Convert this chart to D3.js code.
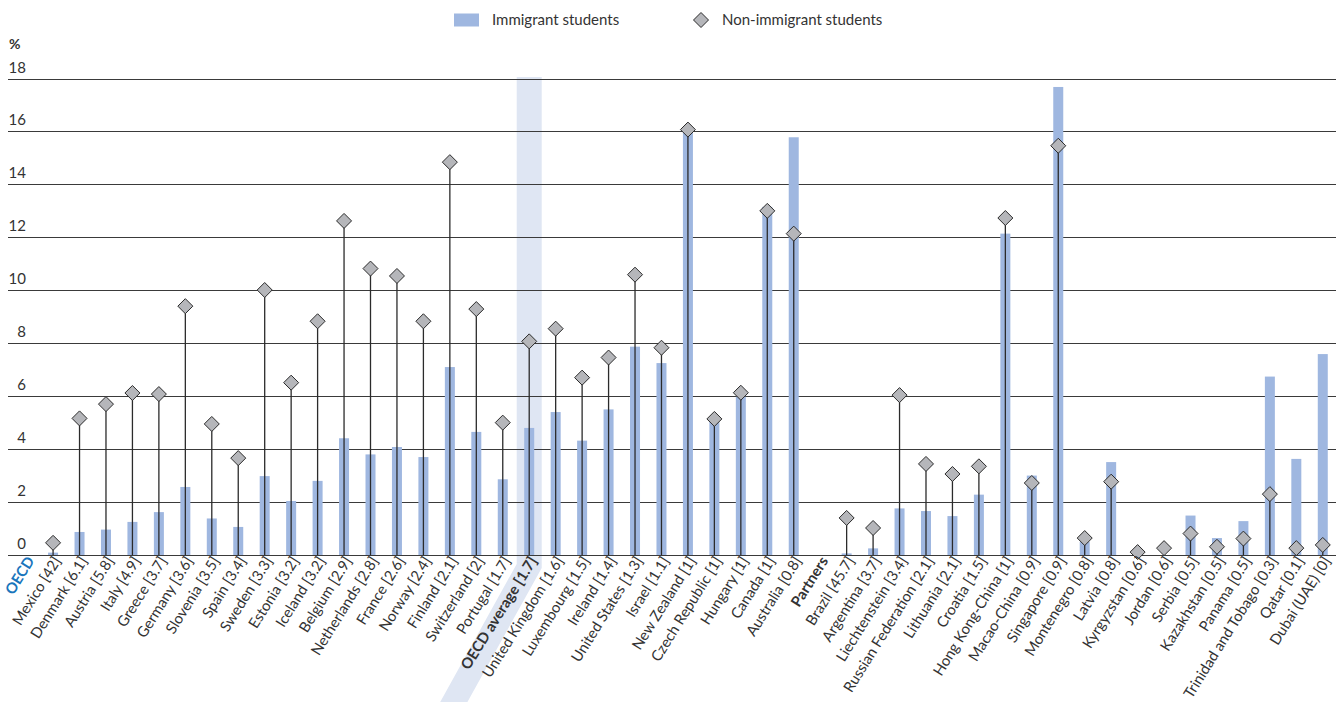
<!DOCTYPE html>
<html><head><meta charset="utf-8">
<script src="https://cdn.jsdelivr.net/npm/d3@7"></script>
<style>
body{margin:0;background:#fff;}
svg{display:block;font-family:Lato, "Open Sans", sans-serif;}
</style>
</head><body>
<svg id="chart" width="1343" height="702"></svg>
<script>
// ---- DATA ----
const categories = ["OECD","Mexico [42]","Denmark [6.1]","Austria [5.8]","Italy [4.9]","Greece [3.7]","Germany [3.6]","Slovenia [3.5]","Spain [3.4]","Sweden [3.3]","Estonia [3.2]","Iceland [3.2]","Belgium [2.9]","Netherlands [2.8]","France [2.6]","Norway [2.4]","Finland [2.1]","Switzerland [2]","Portugal [1.7]","OECD average [1.7]","United Kingdom [1.6]","Luxembourg [1.5]","Ireland [1.4]","United States [1.3]","Israel [1.1]","New Zealand [1]","Czech Republic [1]","Hungary [1]","Canada [1]","Australia [0.8]","Partners","Brazil [45.7]","Argentina [3.7]","Liechtenstein [3.4]","Russian Federation [2.1]","Lithuania [2.1]","Croatia [1.5]","Hong Kong-China [1]","Macao-China [0.9]","Singapore [0.9]","Montenegro [0.8]","Latvia [0.8]","Kyrgyzstan [0.6]","Jordan [0.6]","Serbia [0.5]","Kazakhstan [0.5]","Panama [0.5]","Trinidad and Tobago [0.3]","Qatar [0.1]","Dubai (UAE) [0]"];
const immigrant = [null,0.09,0.87,0.96,1.25,1.62,2.57,1.38,1.06,2.98,2.04,2.80,4.41,3.80,4.08,3.70,7.10,4.65,2.86,4.80,5.40,4.32,5.50,7.87,7.25,15.95,5.04,5.98,13.15,15.78,null,0.06,0.25,1.76,1.66,1.47,2.28,12.14,3.00,17.68,0.50,3.51,0,0,1.49,0.64,1.28,6.74,3.63,7.59];
const nonImmigrant = [null,0.46,5.16,5.70,6.12,6.08,9.40,4.95,3.66,10.01,6.51,8.83,12.62,10.82,10.54,8.83,14.84,9.29,5.00,8.07,8.55,6.70,7.46,10.59,7.83,16.07,5.14,6.13,13.00,12.14,null,1.40,1.02,6.04,3.44,3.06,3.35,12.73,2.72,15.46,0.64,2.77,0.11,0.26,0.81,0.31,0.62,2.30,0.26,0.38];
const groupHeaders = ["OECD","Partners"];
const highlightCategory = "OECD average [1.7]";
const yTicks = [0,2,4,6,8,10,12,14,16,18];
const legendLabels = ["Immigrant students","Non-immigrant students"];
const yUnit = "%";

// ---- STYLE ----
const W = 1343, H = 702;
const barColor = "#9fb7e0", diamondFill = "#b5b6ba", ink = "#2b2b2b", textColor = "#333";
const highlightColor = "#dfe6f3", oecdBlue = "#1a75bc";
const labelAngle = 58, bandAngle = 61;

const svg = d3.select("#chart");
const x = d3.scaleBand().domain(categories).range([13.4, 1336]).paddingInner(0).paddingOuter(0);
const y = d3.scaleLinear().domain([0, 18]).range([555, 78.5]);
const cx = d => x(d) + x.bandwidth() / 2;
const barW = 10;

const rows = categories.map((c, i) => ({c, imm: immigrant[i], non: nonImmigrant[i]}));
const dataRows = rows.filter(r => r.imm !== null);

// highlight band for OECD average
{
  const x0 = cx(highlightCategory) - 12.5, x1 = cx(highlightCategory) + 12.5;
  const top = y(18) - 1.5, yStartR = y(0) + 13, yStartL = y(0) + 9;
  const k = 1 / Math.tan(bandAngle * Math.PI / 180);
  const pts = [[x0, top], [x1, top], [x1, yStartR], [x1 - (H - yStartR) * k, H], [x0 - (H - yStartL) * k, H], [x0, yStartL]];
  svg.append("polygon").attr("points", pts.map(p => p.join(",")).join(" ")).attr("fill", highlightColor);
}

// gridlines
const grid = svg.append("g");
grid.selectAll("line").data(yTicks).join("line")
  .attr("x1", 8).attr("x2", 1336)
  .attr("y1", d => Math.round(y(d)) + 0.5).attr("y2", d => Math.round(y(d)) + 0.5)
  .attr("stroke", "#3a3a3a").attr("stroke-width", 1);
grid.selectAll("text").data(yTicks).join("text")
  .attr("x", 26).attr("y", d => y(d) - 6)
  .attr("text-anchor", "end").attr("font-size", 15).attr("fill", textColor)
  .text(d => d);
svg.append("text").attr("x", 9).attr("y", 49).attr("font-size", 14).attr("font-weight", "bold")
  .attr("fill", textColor).text(yUnit);

// bars
svg.append("g").selectAll("rect").data(dataRows.filter(r => r.imm > 0)).join("rect")
  .attr("x", r => cx(r.c) - barW / 2).attr("width", barW)
  .attr("y", r => y(r.imm)).attr("height", r => y(0) - y(r.imm))
  .attr("fill", barColor);

// stems
svg.append("g").selectAll("line").data(dataRows).join("line")
  .attr("x1", r => cx(r.c)).attr("x2", r => cx(r.c))
  .attr("y1", y(0)).attr("y2", r => y(r.non))
  .attr("stroke", ink).attr("stroke-width", 1.3);

// diamonds
const dsz = 7.5;
const diamondPath = `M0,${-dsz}L${dsz},0L0,${dsz}L${-dsz},0Z`;
svg.append("g").selectAll("path").data(dataRows).join("path")
  .attr("d", diamondPath)
  .attr("transform", r => `translate(${cx(r.c)},${y(r.non)})`)
  .attr("fill", diamondFill).attr("stroke", ink).attr("stroke-width", 1);

// x labels
svg.append("g").selectAll("text").data(categories).join("text")
  .attr("transform", d => `translate(${cx(d) + 4},${y(0) + 3}) rotate(${-labelAngle})`)
  .attr("text-anchor", "end").attr("dy", "0.35em")
  .attr("font-size", 14.8)
  .attr("font-weight", d => (groupHeaders.includes(d) || d === highlightCategory) ? "bold" : "normal")
  .attr("fill", d => d === "OECD" ? oecdBlue : textColor)
  .text(d => d);

// legend
const lg = svg.append("g").attr("font-size", 15).attr("fill", textColor);
lg.append("rect").attr("x", 454).attr("y", 13.5).attr("width", 25).attr("height", 13).attr("fill", barColor);
lg.append("text").attr("x", 492).attr("y", 25).text(legendLabels[0]);
lg.append("path").attr("d", diamondPath).attr("transform", "translate(701,20)")
  .attr("fill", diamondFill).attr("stroke", ink).attr("stroke-width", 1);
lg.append("text").attr("x", 722).attr("y", 25).text(legendLabels[1]);
</script>
</body></html>
